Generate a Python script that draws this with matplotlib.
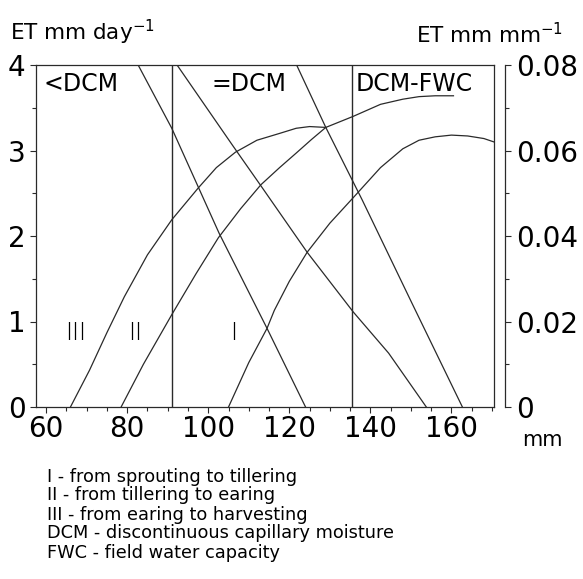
import numpy as np
import matplotlib.pyplot as plt
from matplotlib.ticker import MultipleLocator

plt.rcParams['font.family'] = ['DejaVu Sans']

# rising curves
x_III = [66, 70.7, 75, 79.3, 85, 91, 97.5, 102, 106.7, 112, 117.6, 121.7, 125, 129]
y_III = [0, 0.43, 0.87, 1.29, 1.78, 2.19, 2.56, 2.80, 2.98, 3.12, 3.20, 3.26, 3.28, 3.27]

x_II = [78.5, 84, 91, 97, 102.5, 108, 113, 117.6, 121.7, 125.5, 129, 135.8, 142.5, 148, 152, 156, 160.5]
y_II = [0, 0.5, 1.08, 1.56, 1.98, 2.32, 2.60, 2.80, 2.97, 3.13, 3.27, 3.40, 3.54, 3.60, 3.63, 3.64, 3.64]

x_I = [105, 110, 114.5, 116.3, 120, 124.4, 130, 135.8, 142.5, 148, 152, 156, 160, 164, 168, 170.5]
y_I = [0, 0.52, 0.92, 1.13, 1.47, 1.81, 2.15, 2.45, 2.80, 3.02, 3.12, 3.16, 3.18, 3.17, 3.14, 3.10]

# descending lines
x_A = [82.7, 91, 102.7, 114.5, 124]
y_A = [4, 3.26, 2.03, 0.92, 0]
x_B = [92.3, 106, 112.8, 124.4, 135.8, 144.5, 153.8]
y_B = [4, 3.06, 2.6, 1.81, 1.11, 0.63, 0]
x_C = [121.8, 129, 138, 150.3, 162.7]
y_C = [4, 3.27, 2.42, 1.21, 0]

# moisture zone borders
borders = [91, 135.5]
zone_labels = ['<DCM', '=DCM', 'DCM-FWC']
zone_x = [59.3, 100.8, 136.3]
phase_labels = ['III', 'II', 'I']
phase_x = [64.8, 80.2, 105.3]

notes = ['I - from sprouting to tillering',
         'II - from tillering to earing',
         'III - from earing to harvesting',
         'DCM - discontinuous capillary moisture',
         'FWC - field water capacity']

W, H = 583, 579
fig = plt.figure(figsize=(W / 100, H / 100), dpi=100)
ax = fig.add_axes([36 / W, 1 - 407 / H, (494 - 36) / W, (407 - 65) / H])

lc = '#2a2a2a'
for xs, ys in [(x_III, y_III), (x_II, y_II), (x_I, y_I),
               (x_A, y_A), (x_B, y_B), (x_C, y_C)]:
    ax.plot(xs, ys, color=lc, lw=0.9)
for b in borders:
    ax.axvline(b, color=lc, lw=1.0)

ax.set_xlim(57.5, 170.5)
ax.set_ylim(0, 4)
ax.xaxis.set_major_locator(MultipleLocator(20))
ax.xaxis.set_minor_locator(MultipleLocator(5))
ax.yaxis.set_major_locator(MultipleLocator(1))
ax.yaxis.set_minor_locator(MultipleLocator(0.5))
ax.tick_params(which='both', direction='out', labelsize=20, width=0.8, color=lc)
ax.tick_params(which='major', length=4, pad=2)
ax.tick_params(which='minor', length=3)
ax.tick_params(axis='y', pad=3.5)
for s in ax.spines.values():
    s.set_linewidth(0.9)
    s.set_color(lc)

# right axis, set a little apart from the frame
ax2 = ax.twinx()
ax2.set_ylim(0, 0.08)
ax2.yaxis.set_minor_locator(MultipleLocator(0.01))
ax2.set_yticks([0, 0.02, 0.04, 0.06, 0.08])
ax2.set_yticklabels(['0', '0.02', '0.04', '0.06', '0.08'])
ax2.spines['right'].set_position(('outward', 8))
ax2.spines['right'].set_linewidth(0.9)
ax2.spines['right'].set_color(lc)
for k in ['left', 'top', 'bottom']:
    ax2.spines[k].set_visible(False)
ax2.tick_params(which='both', direction='out', labelsize=20, width=0.8, color=lc)
ax2.tick_params(which='major', length=4, pad=4)
ax2.tick_params(which='minor', length=3)

for lab, zx in zip(zone_labels, zone_x):
    ax.text(zx, 3.78, lab, fontsize=17, va='center', ha='left')
for lab, px in zip(phase_labels, phase_x):
    ax.text(px, 0.87, lab, fontsize=17, va='center', ha='left', fontweight='light')

fig.text(10 / W, 1 - 32 / H, 'ET mm day$^{\\mathregular{-1}}$', fontsize=15.5,
         va='center', ha='left')
fig.text(563 / W, 1 - 35 / H, 'ET mm mm$^{\\mathregular{-1}}$', fontsize=15.5,
         va='center', ha='right')
fig.text(542 / W, 1 - 440 / H, 'mm', fontsize=15, va='center', ha='center')

note_y = [477, 495, 515, 533, 553]
for t, ny in zip(notes, note_y):
    fig.text(47 / W, 1 - ny / H, t, fontsize=12.8, va='center', ha='left')

fig.savefig('out.png', dpi=100)
